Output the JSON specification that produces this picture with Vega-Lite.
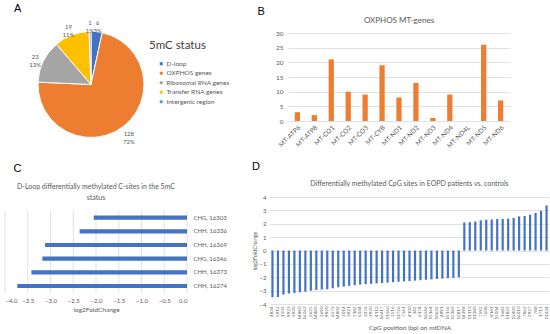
{
  "$schema": "https://vega.github.io/schema/vega-lite/v6.json",
  "background": "white",
  "padding": {"left": 4, "top": 2, "right": 2, "bottom": 2},
  "config": {
    "view": {"stroke": null},
    "font": "Lato",
    "axis": {"labelColor": "#595959", "titleColor": "#595959", "gridColor": "#D9D9D9", "gridWidth": 0.8, "domain": false, "ticks": false, "labelFont": "Lato", "titleFont": "Lato", "titleFontWeight": "normal", "labelFontSize": 6.5, "titleFontSize": 6.5, "labelPadding": 3},
    "title": {"font": "Lato", "fontWeight": "normal", "color": "#595959"}
  },
  "spacing": 11,
  "vconcat": [
    {
      "hconcat": [
        {
          "title": {"text": "A", "anchor": "start", "fontSize": 11, "font": "Liberation Sans", "color": "#000000", "dx": 9, "offset": 6},
          "vconcat": [
            {
              "width": 172,
              "height": 103,
              "data": {"values": [
                {"region": "D-loop", "count": 6, "label": "6\n3%", "order": 1},
                {"region": "OXPHOS genes", "count": 128, "label": "128\n72%", "order": 2},
                {"region": "Ribosomal RNA genes", "count": 23, "label": "23\n13%", "order": 3},
                {"region": "Transfer RNA genes", "count": 19, "label": "19\n11%", "order": 4},
                {"region": "Intergenic region", "count": 1, "label": "1\n1%", "order": 5}
              ]},
              "layer": [
                {
                  "mark": {"type": "arc", "outerRadius": 53, "stroke": "white", "strokeWidth": 1},
                  "encoding": {
                    "theta": {"field": "count", "type": "quantitative", "stack": true},
                    "order": {"field": "order", "type": "quantitative"},
                    "color": {
                      "field": "region", "type": "nominal",
                      "scale": {"domain": ["D-loop", "OXPHOS genes", "Ribosomal RNA genes", "Transfer RNA genes", "Intergenic region"], "range": ["#4472C4", "#ED7D31", "#A5A5A5", "#FFC000", "#5B9BD5"]},
                      "legend": {"title": "5mC status", "orient": "none", "legendX": 144, "legendY": 7, "titleFontSize": 11.5, "titleFont": "Lato", "titleFontWeight": "normal", "titleColor": "#404040", "titlePadding": 9, "labelFontSize": 6.5, "labelFont": "Lato", "labelColor": "#595959", "symbolType": "square", "symbolSize": 9, "symbolOffset": 9, "labelOffset": 2, "rowPadding": 2.5, "symbolStrokeWidth": 0}
                    }
                  }
                },
                {
                  "mark": {"type": "text", "radius": 62, "fontSize": 6, "lineBreak": "\n", "color": "#595959", "lineHeight": 8},
                  "encoding": {
                    "theta": {"field": "count", "type": "quantitative", "stack": true},
                    "order": {"field": "order", "type": "quantitative"},
                    "text": {"field": "label", "type": "nominal"}
                  }
                }
              ]
            }
          ]
        },
        {
          "title": {"text": "B", "anchor": "start", "fontSize": 11, "font": "Liberation Sans", "color": "#000000", "dx": -18, "offset": 0},
          "vconcat": [
            {
              "title": {"text": "OXPHOS MT-genes", "fontSize": 8, "offset": 5.5},
              "width": 222,
              "height": 88,
              "data": {"values": [
                {"gene": "MT-ATP6", "count": 3},
                {"gene": "MT-ATP8", "count": 2},
                {"gene": "MT-CO1", "count": 21},
                {"gene": "MT-CO2", "count": 10},
                {"gene": "MT-CO3", "count": 9},
                {"gene": "MT-CYB", "count": 19},
                {"gene": "MT-ND1", "count": 8},
                {"gene": "MT-ND2", "count": 13},
                {"gene": "MT-ND3", "count": 1},
                {"gene": "MT-ND4", "count": 9},
                {"gene": "MT-ND4L", "count": 0},
                {"gene": "MT-ND5", "count": 26},
                {"gene": "MT-ND6", "count": 7}
              ]},
              "mark": {"type": "bar", "color": "#ED7D31"},
              "encoding": {
                "x": {"field": "gene", "type": "nominal", "sort": null, "scale": {"paddingInner": 0.69, "paddingOuter": 0.4}, "axis": {"title": null, "labelAngle": -45, "labelFontSize": 6.5, "labelPadding": 3}},
                "y": {"field": "count", "type": "quantitative", "scale": {"domain": [0, 30]}, "axis": {"title": null, "values": [0, 5, 10, 15, 20, 25, 30], "labelPadding": 5}}
              }
            }
          ]
        }
      ],
      "spacing": 80
    },
    {
      "hconcat": [
        {
          "title": {"text": "C", "anchor": "start", "fontSize": 11, "font": "Liberation Sans", "color": "#000000", "dx": 9, "offset": 9},
          "vconcat": [
            {
              "title": {"text": ["D-Loop differentially methylated C-sites in the 5mC", "status"], "fontSize": 7, "lineHeight": 10.5, "offset": -3.5},
              "width": 182,
              "height": 96,
              "layer": [
                {
                  "data": {"values": [
                    {"g": -4}, {"g": -3.5}, {"g": -3}, {"g": -2.5}, {"g": -2}, {"g": -1.5}, {"g": -1}, {"g": -0.5}, {"g": 0}
                  ]},
                  "mark": {"type": "rule", "color": "#D9D9D9", "strokeWidth": 0.8},
                  "encoding": {
                    "x": {"field": "g", "type": "quantitative", "scale": {"domain": [-4, 0]}, "axis": {"title": "log2FoldChange", "values": [-4, -3.5, -3, -2.5, -2, -1.5, -1, -0.5, 0], "labelFontSize": 6, "labelPadding": 4.5, "titlePadding": 3, "grid": false, "labelOverlap": false}},
                    "y": {"datum": "CHG, 16303", "type": "nominal", "bandPosition": -1.2},
                    "y2": {"datum": "CHH, 16274", "bandPosition": 2.27}
                  }
                },
                {
                  "data": {"values": [
                    {"site": "CHG, 16303", "lfc": -2.05},
                    {"site": "CHH, 16336", "lfc": -2.36},
                    {"site": "CHH, 16369", "lfc": -3.12},
                    {"site": "CHG, 16346", "lfc": -3.18},
                    {"site": "CHH, 16373", "lfc": -3.42},
                    {"site": "CHH, 16274", "lfc": -3.73}
                  ]},
                  "mark": {"type": "bar", "color": "#4472C4"},
                  "encoding": {
                    "y": {"field": "site", "type": "nominal", "sort": null, "scale": {"domain": ["", "CHG, 16303", "CHH, 16336", "CHH, 16369", "CHG, 16346", "CHH, 16373", "CHH, 16274"], "paddingInner": 0.7, "paddingOuter": 0.36}, "axis": {"orient": "right", "title": null, "labelFontSize": 6, "labelPadding": 6, "grid": false}},
                    "x": {"field": "lfc", "type": "quantitative", "scale": {"domain": [-4, 0]}, "axis": {"title": "log2FoldChange", "values": [-4, -3.5, -3, -2.5, -2, -1.5, -1, -0.5, 0], "labelFontSize": 6, "labelPadding": 4.5, "titlePadding": 3, "grid": false, "labelOverlap": false}}
                  }
                }
              ]
            }
          ]
        },
        {
          "title": {"text": "D", "anchor": "start", "fontSize": 11, "font": "Liberation Sans", "color": "#000000", "dx": 0, "offset": 8},
          "vconcat": [
            {
              "title": {"text": "Differentially methylated CpG sites in EOPD patients vs. controls", "fontSize": 7, "offset": 7},
              "width": 279,
              "height": 107,
              "data": {"values": [
                {"pos": "4834", "lfc": -3.5},
                {"pos": "5912", "lfc": -3.48},
                {"pos": "1505", "lfc": -3.3},
                {"pos": "9923", "lfc": -3.22},
                {"pos": "5930", "lfc": -3.18},
                {"pos": "14890", "lfc": -3.12},
                {"pos": "16263", "lfc": -3.08},
                {"pos": "2625", "lfc": -3.0},
                {"pos": "14880", "lfc": -2.95},
                {"pos": "2690", "lfc": -2.92},
                {"pos": "9830", "lfc": -2.9},
                {"pos": "6573", "lfc": -2.82},
                {"pos": "14803", "lfc": -2.75},
                {"pos": "3014", "lfc": -2.7},
                {"pos": "3421", "lfc": -2.64},
                {"pos": "5182", "lfc": -2.6},
                {"pos": "6034", "lfc": -2.55},
                {"pos": "3376", "lfc": -2.52},
                {"pos": "3930", "lfc": -2.49},
                {"pos": "4112", "lfc": -2.46},
                {"pos": "16417", "lfc": -2.43},
                {"pos": "11560", "lfc": -2.4},
                {"pos": "2516", "lfc": -2.37},
                {"pos": "11726", "lfc": -2.34},
                {"pos": "7561", "lfc": -2.31},
                {"pos": "4100", "lfc": -2.28},
                {"pos": "342", "lfc": -2.25},
                {"pos": "6174", "lfc": -2.22},
                {"pos": "16546", "lfc": -2.19},
                {"pos": "15164", "lfc": -2.16},
                {"pos": "10632", "lfc": -2.13},
                {"pos": "4891", "lfc": -2.1},
                {"pos": "15156", "lfc": -2.07},
                {"pos": "15383", "lfc": -2.04},
                {"pos": "12817", "lfc": -2.0},
                {"pos": "14398", "lfc": 2.1},
                {"pos": "11113", "lfc": 2.12},
                {"pos": "11380", "lfc": 2.17},
                {"pos": "7592", "lfc": 2.25},
                {"pos": "7608", "lfc": 2.3},
                {"pos": "8141", "lfc": 2.32},
                {"pos": "15004", "lfc": 2.35},
                {"pos": "1683", "lfc": 2.36},
                {"pos": "11832", "lfc": 2.38},
                {"pos": "15400", "lfc": 2.43},
                {"pos": "16010", "lfc": 2.55},
                {"pos": "7862", "lfc": 2.58},
                {"pos": "2927", "lfc": 2.68},
                {"pos": "788", "lfc": 2.82},
                {"pos": "1713", "lfc": 2.97},
                {"pos": "11434", "lfc": 3.37}
              ]},
              "mark": {"type": "bar", "color": "#4472C4"},
              "encoding": {
                "x": {"field": "pos", "type": "nominal", "sort": null, "scale": {"paddingInner": 0.6, "paddingOuter": 0.25}, "axis": {"title": "CpG position (bp) on mtDNA", "labelAngle": -90, "labelFontSize": 4.5, "labelPadding": 2, "titlePadding": 5}},
                "y": {"field": "lfc", "type": "quantitative", "scale": {"domain": [-4, 4]}, "axis": {"title": "log2FoldChange", "values": [-4, -3, -2, -1, 0, 1, 2, 3, 4], "labelFontSize": 6, "titleFontSize": 5.5, "labelPadding": 4, "titlePadding": 2}}
              }
            }
          ]
        }
      ],
      "spacing": 25
    }
  ]
}
